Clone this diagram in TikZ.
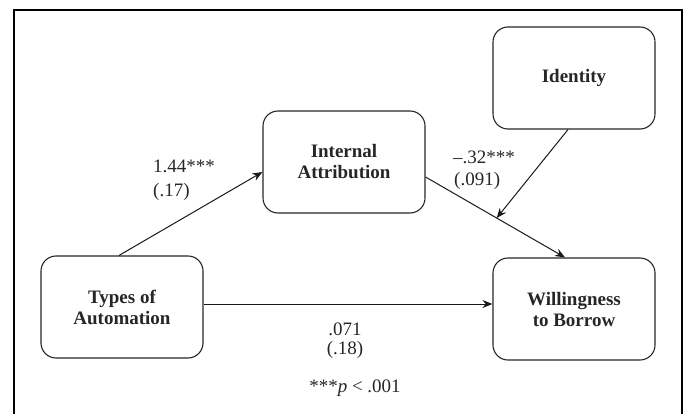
\documentclass[tikz,border=0pt]{standalone}
\usepackage{fontspec}
\setmainfont{Liberation Serif}
\usepackage{tikz}
\usetikzlibrary{calc}
\usetikzlibrary{arrows.meta}
\tikzset{
    varbox/.style={draw=black!85, line width=1.1pt, rounded corners=15pt, minimum width=162pt,
        minimum height=102pt, align=center, text=black!85,
        font=\fontsize{19}{21}\selectfont\bfseries},
    coef/.style={text=black!85, inner sep=0pt, font=\fontsize{19}{21}\selectfont},
    path/.style={draw=black!90, line width=1pt, -{Stealth[length=10pt,width=8pt]}}
}
\begin{document}
\begin{tikzpicture}[x=1pt,y=-1pt]
        \useasboundingbox (0,0) rectangle (684,414);
        \draw[line width=2.6pt] (14,414) |- (682,10) -- (682,414);
        \node[varbox] (ident) at (574,78) {Identity};
        \node[varbox] (intern) at (344,162) {Internal\\Attribution};
        \node[varbox] (types) at (122,307) {Types of\\Automation};
        \node[varbox] (willing) at (574,309) {Willingness\\to Borrow};
        \draw[path] ([xshift=-3pt]types.north) -- ([yshift=-10pt]intern.west);
        \draw[path] ([yshift=-15pt]intern.east) -- coordinate[pos=0.51] (mod) ([xshift=-9pt]willing.north);
        \draw[path] ([xshift=-6pt]ident.south) -- (mod);
        \draw[path] ([yshift=3pt]types.east) -- ([yshift=3pt]types.east -| willing.west);
        \node[coef, anchor=west] (a1) at (153,166) {1.44***};
        \node[coef, anchor=west] (a2) at (153,192) {(.17)};
        \node[coef, anchor=west] (b1) at (453,157) {--.32***};
        \node[coef, anchor=west] (b2) at (454,181) {(.091)};
        \node[coef, align=center, font=\fontsize{19}{19}\selectfont] (c) at (345,341) {.071\\(.18)};
        \node[coef] (sig) at (355,388) {***\textit{p} < .001};
        \end{tikzpicture}
\end{document}
